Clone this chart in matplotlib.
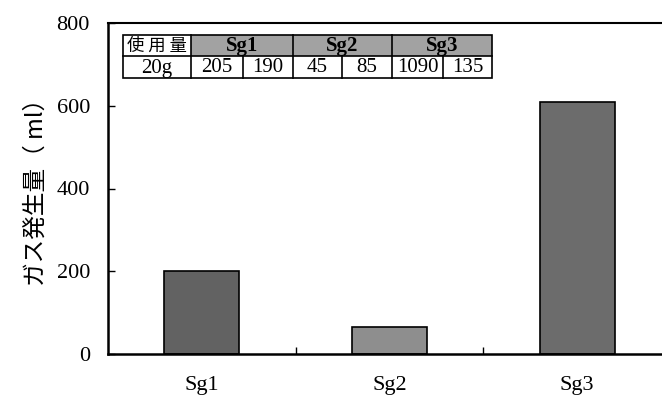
import matplotlib
matplotlib.use("Agg")
import matplotlib.pyplot as plt
from matplotlib.patches import Rectangle
from matplotlib.lines import Line2D

# ---- data ----
categories = ['Sg1', 'Sg2', 'Sg3']
gas_volume = [200, 65, 610]
y_ticks = [0, 200, 400, 600, 800]
table_header = ['使用量', 'Sg1', 'Sg2', 'Sg3']
table_values = ['20g', '205', '190', '45', '85', '1090', '135']

W, H = 662, 399
fig = plt.figure(figsize=(W / 100, H / 100), dpi=100)

def fx(x):
    return x / W

def fy(y):
    return 1 - y / H

serif = ['Liberation Serif', 'DejaVu Serif']
cjk = ['Noto Sans CJK JP', 'DejaVu Sans']

# axes: left spine at x=108, bottom at y=354, top at y=23, right beyond figure
ax = fig.add_axes([fx(108), fy(354), fx(671) - fx(108), fy(23) - fy(354)])
x = list(range(len(categories)))
bar_colors = ['#626262', '#8e8e8e', '#6c6c6c']
ax.bar(x, gas_volume, width=0.4, color=bar_colors, edgecolor='black', linewidth=1.2, zorder=2)

ax.set_xlim(-0.5, len(categories) - 0.5)
ax.set_ylim(0, 800)
ax.set_yticks(y_ticks)
ax.set_yticklabels([str(v) for v in y_ticks], fontfamily=serif, fontsize=16)
ax.tick_params(axis='y', direction='in', length=5, width=1, pad=13)

ax.set_xticks(x)
ax.set_xticklabels(categories, fontfamily=serif, fontsize=16)
ax.tick_params(axis='x', which='major', length=0, pad=16)
ax.set_xticks([i + 0.5 for i in x[:-1]], minor=True)
ax.tick_params(axis='x', which='minor', direction='in', length=5, width=1)

for s in ['left', 'bottom']:
    ax.spines[s].set_linewidth(1.8)
ax.spines['top'].set_linewidth(1.5)
ax.spines['right'].set_visible(False)

fig.text(fx(36), fy(186), 'ガス発生量（ ml）', rotation=90, ha='center', va='center',
         fontsize=17, family=cjk)

# ---- inset table ----
col_edges = [123, 191, 243, 293, 342, 392, 443, 492]
row_edges = [35, 56, 78]
lw = 1.2
# header gray cells for Sg groups
for g in range(3):
    x0 = col_edges[1 + 2 * g]
    x1 = col_edges[3 + 2 * g]
    fig.patches.append(Rectangle((fx(x0), fy(row_edges[1])), fx(x1) - fx(x0),
                                 fy(row_edges[0]) - fy(row_edges[1]),
                                 transform=fig.transFigure, facecolor='#a2a2a2',
                                 edgecolor='none', zorder=5))
# outer frame
fig.patches.append(Rectangle((fx(col_edges[0]), fy(row_edges[2])),
                             fx(col_edges[-1]) - fx(col_edges[0]),
                             fy(row_edges[0]) - fy(row_edges[2]),
                             transform=fig.transFigure, facecolor='none',
                             edgecolor='black', linewidth=lw, zorder=6))
# horizontal divider
fig.lines.append(Line2D([fx(col_edges[0]), fx(col_edges[-1])], [fy(row_edges[1])] * 2,
                        transform=fig.transFigure, color='black', linewidth=lw, zorder=6))
# vertical dividers
for i, xe in enumerate(col_edges[1:-1], start=1):
    top = row_edges[0] if i in (1, 3, 5) else row_edges[1]
    fig.lines.append(Line2D([fx(xe)] * 2, [fy(top), fy(row_edges[2])],
                            transform=fig.transFigure, color='black', linewidth=lw, zorder=6))

ymid0 = (row_edges[0] + row_edges[1]) / 2
ymid1 = (row_edges[1] + row_edges[2]) / 2
fig.text(fx((col_edges[0] + col_edges[1]) / 2), fy(ymid0), '使 用 量',
         ha='center', va='center', fontsize=12.5, family=cjk, zorder=7)
for g in range(3):
    cx = (col_edges[1 + 2 * g] + col_edges[3 + 2 * g]) / 2
    fig.text(fx(cx), fy(ymid0 + 1), table_header[g + 1], ha='center', va='center',
             fontsize=15, family=serif, fontweight='bold', zorder=7)
for i, v in enumerate(table_values):
    cx = (col_edges[i] + col_edges[i + 1]) / 2
    fig.text(fx(cx), fy(ymid1 + 1), v, ha='center', va='center',
             fontsize=15, family=serif, zorder=7)

fig.savefig('out.png', dpi=100)
